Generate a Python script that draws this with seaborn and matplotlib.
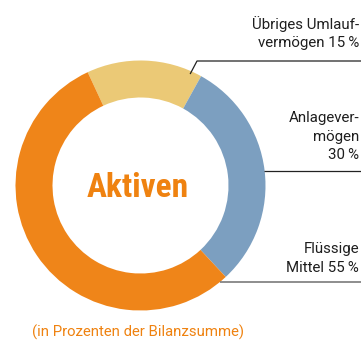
import numpy as np
import pandas as pd
import matplotlib
matplotlib.use("Agg")
import matplotlib.pyplot as plt
import seaborn as sns

# Asset structure (share of balance sheet total, in %)
categories = ["Übriges Umlaufvermögen", "Anlagevermögen", "Flüssige Mittel"]
shares = [15, 30, 55]
label_lines = [["Übriges Umlauf-", "vermögen {v}\u2009%"],
               ["Anlagever-", "mögen", "{v}\u2009%"],
               ["Flüssige", "Mittel {v}\u2009%"]]
colors = ["#EBC976", "#7C9FC0", "#EF8519"]
title = "Aktiven"
note = "(in Prozenten der Bilanzsumme)"

df = pd.DataFrame({"category": categories, "share": shares})

sns.set_theme(style="white")
plt.rcParams["font.family"] = ["Roboto", "DejaVu Sans"]

W, H = 361, 340
fig = plt.figure(figsize=(W / 100, H / 100), dpi=100)
ax = fig.add_axes([0, 0, 1, 1])

def py(y):
    # convert a top-down pixel row to the axes' y coordinate
    return H - y

cx, cy, R = 140.5, py(185.5), 125.0
ring = 37.0

wedges, _ = ax.pie(df["share"], colors=colors, startangle=115, counterclock=False,
                   center=(cx, cy), radius=R,
                   wedgeprops=dict(width=ring, linewidth=0))
ax.set_xlim(0, W)
ax.set_ylim(0, H)
ax.set_aspect("equal")
ax.axis("off")

orange = "#EF8210"
ax.text(cx - 3, py(197), title, ha="center", va="baseline", fontsize=24,
        fontweight="bold", color=orange,
        family=["Roboto Condensed", "DejaVu Sans"])
ax.text(cx - 3, py(337), note, ha="center", va="baseline", fontsize=10.7,
        color=orange)

# right-hand labels, one text per line
text_kw = dict(ha="right", va="baseline", fontsize=10.8, color="#1e1e1e")
baselines = [[29, 47], [122, 140.5, 159], [253, 272]]
for lines, rows, v in zip(label_lines, baselines, df["share"]):
    for line, row in zip(lines, rows):
        ax.text(359, py(row), line.format(v=v), **text_kw)

# leader lines
def on_ring(clock_deg, r):
    a = np.deg2rad(clock_deg)
    return cx + r * np.sin(a), cy + r * np.cos(a)

x_end, y_end = on_ring(24, 122)
ax.plot([W, 197, x_end], [py(61), py(61), y_end], color="#222222", lw=0.9,
        solid_capstyle="butt")
y_b = 171
ax.plot([W, cx + np.sqrt(R**2 - (y_b - 185.5) ** 2) - 1], [py(y_b), py(y_b)],
        color="#222222", lw=0.9, solid_capstyle="butt")
y_o = 282
ax.plot([W, cx + np.sqrt(R**2 - (y_o - 185.5) ** 2)], [py(y_o), py(y_o)],
        color="#7a7a7a", lw=1.2, solid_capstyle="butt")

fig.savefig("out.png", dpi=100)
